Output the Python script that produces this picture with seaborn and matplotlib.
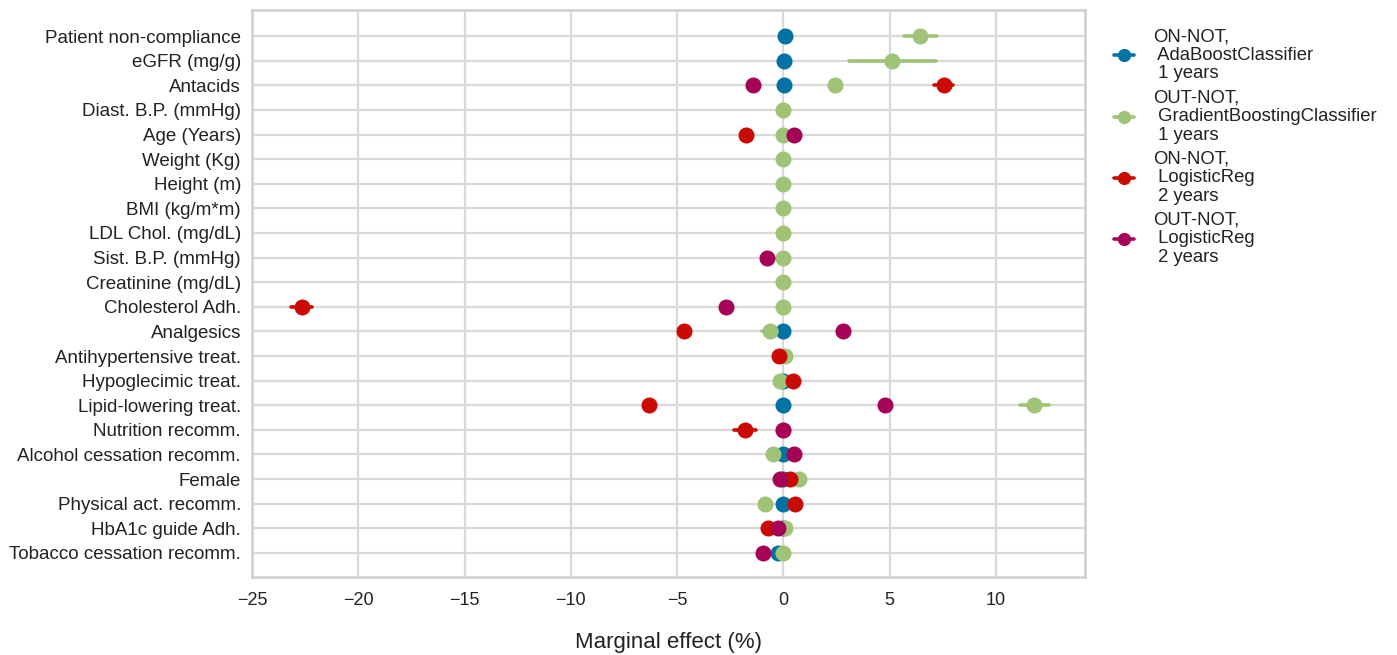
import numpy as np
import pandas as pd
import matplotlib
matplotlib.use("Agg")
import matplotlib.pyplot as plt
from matplotlib.lines import Line2D
import seaborn as sns

nan = np.nan

features = ["Patient non-compliance", "eGFR (mg/g)", "Antacids", "Diast. B.P. (mmHg)",
            "Age (Years)", "Weight (Kg)", "Height (m)", "BMI (kg/m*m)", "LDL Chol. (mg/dL)",
            "Sist. B.P. (mmHg)", "Creatinine (mg/dL)", "Cholesterol Adh.", "Analgesics",
            "Antihypertensive treat.", "Hypoglecimic treat.", "Lipid-lowering treat.",
            "Nutrition recomm.", "Alcohol cessation recomm.", "Female",
            "Physical act. recomm.", "HbA1c guide Adh.", "Tobacco cessation recomm."]

models = ["ON-NOT,\n AdaBoostClassifier\n 1 years",
          "OUT-NOT,\n GradientBoostingClassifier\n 1 years",
          "ON-NOT,\n LogisticReg\n 2 years",
          "OUT-NOT,\n LogisticReg\n 2 years"]

colors = ["#0272a2", "#9fc377", "#ca0b03", "#a50258"]

# marginal effects (%)
ada_mid = [0.1, 0.05, 0.05, nan, nan, nan, nan, nan, nan, nan, nan, nan, 0.0, nan,
           0.0, 0.0, nan, 0.0, 0.0, 0.0, 0.0, -0.25]
gb_mid = [6.45, 5.12, 2.45, 0.0, -0.03, 0.0, 0.0, 0.0, 0.0, 0.0, 0.0, 0.0, -0.64, 0.1,
          -0.15, 11.82, 0.0, -0.5, 0.75, -0.88, 0.1, 0.0]
gb_lo = [5.66, 3.08, 2.45, 0.0, -0.03, 0.0, 0.0, 0.0, 0.0, 0.0, 0.0, 0.0, -1.0, 0.1,
         -0.15, 11.13, 0.0, -0.5, 0.75, -0.88, 0.1, 0.0]
gb_hi = [7.24, 7.19, 2.45, 0.0, -0.03, 0.0, 0.0, 0.0, 0.0, 0.0, 0.0, 0.0, -0.3, 0.1,
         -0.15, 12.49, 0.0, -0.5, 0.75, -0.88, 0.1, 0.0]
lr2on_mid = [nan, nan, 7.58, nan, -1.76, nan, nan, nan, nan, nan, nan, -22.66, -4.69,
             -0.19, 0.46, -6.31, -1.82, nan, 0.3, 0.56, -0.72, nan]
lr2on_lo = [nan, nan, 7.08, nan, -1.76, nan, nan, nan, nan, nan, nan, -23.16, -4.69,
            -0.19, 0.46, -6.31, -2.34, nan, 0.3, 0.56, -0.72, nan]
lr2on_hi = [nan, nan, 7.99, nan, -1.76, nan, nan, nan, nan, nan, nan, -22.16, -4.69,
            -0.19, 0.46, -6.31, -1.27, nan, 0.3, 0.56, -0.72, nan]
lr2out_mid = [nan, nan, -1.44, nan, 0.52, nan, nan, nan, nan, -0.75, nan, -2.7, 2.79,
              nan, nan, 4.8, 0.0, 0.5, -0.15, nan, -0.25, -0.96]

series = [
    (ada_mid, ada_mid, ada_mid),
    (gb_lo, gb_mid, gb_hi),
    (lr2on_lo, lr2on_mid, lr2on_hi),
    (lr2out_mid, lr2out_mid, lr2out_mid),
]

rows = []
for m, (lo, mid, hi) in zip(models, series):
    for f, a, b, c in zip(features, lo, mid, hi):
        if np.isnan(b):
            continue
        for v in (a, b, c):
            rows.append({"feature": f, "model": m, "value": v})
df = pd.DataFrame(rows)

sns.set_style("whitegrid", {"axes.edgecolor": "#cfcfcf", "grid.color": "#d9d9d9"})
plt.rcParams["font.family"] = ["Liberation Sans", "DejaVu Sans"]
plt.rcParams["axes.linewidth"] = 1.8
plt.rcParams["grid.linewidth"] = 1.6

fig = plt.figure(figsize=(13.97, 6.55), dpi=100)
ax = fig.add_axes([0.1804, 0.119, 0.5963, 0.8657])

sns.pointplot(data=df, x="value", y="feature", hue="model", order=features,
              hue_order=models, palette=colors, estimator="median",
              errorbar=("pi", 100), dodge=False, linestyle="none", markers="o",
              markersize=9.5, err_kws={"linewidth": 2.6}, ax=ax, legend=False)

ax.set_xlim(-25, 14.2)
ax.set_ylim(21.98, -1.06)
ax.set_xticks([-25, -20, -15, -10, -5, 0, 5, 10])
ax.xaxis.grid(True)
ax.yaxis.grid(True)
ax.set_axisbelow(True)
ax.set_xlabel("Marginal effect (%)", fontsize=16, labelpad=16, color="#222222")
ax.set_ylabel("")
ax.tick_params(axis="both", labelsize=13.5, colors="#222222", length=0)
ax.tick_params(axis="x", labelsize=13, pad=11)
ax.tick_params(axis="y", pad=8)
for sp in ax.spines.values():
    sp.set_color("#cfcfcf")
    sp.set_linewidth(1.8)

handles = [Line2D([], [], color=c, marker="o", markersize=8.5, linestyle="-",
                  linewidth=2.6) for c in colors]
leg = ax.legend(handles, models, loc="upper left", bbox_to_anchor=(1.015, 0.997),
                frameon=False, fontsize=13.3, handlelength=1.1, handletextpad=1.0,
                labelspacing=0.38)
for t in leg.get_texts():
    t.set_linespacing(1.12)
    t.set_color("#222222")

fig.savefig("out.png", dpi=100)
